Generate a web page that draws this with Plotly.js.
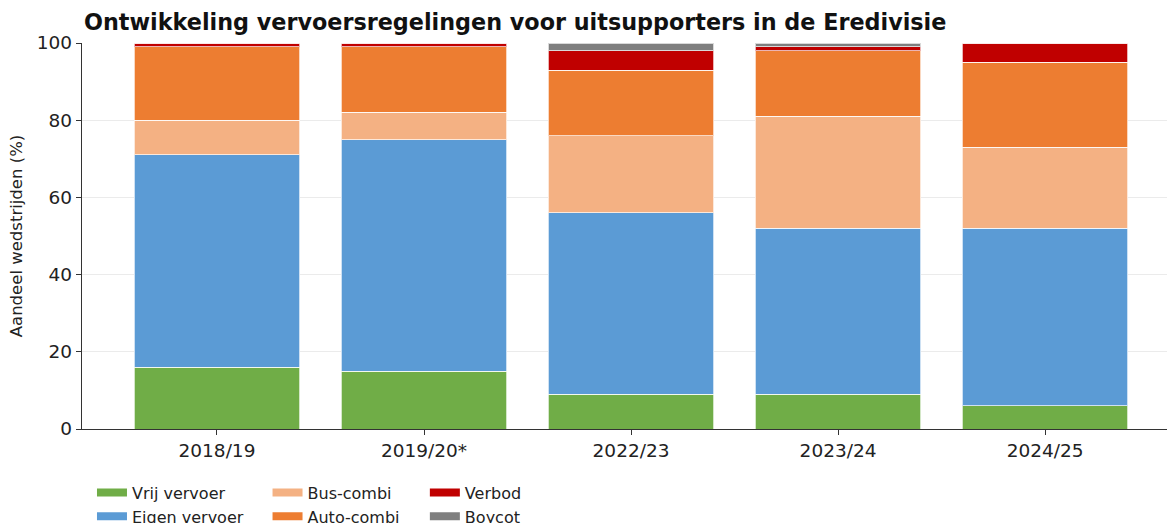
<!DOCTYPE html>
<html><head><meta charset="utf-8">
<script src="https://cdn.plot.ly/plotly-3.0.1.min.js"></script>
<style>body{margin:0;padding:0;background:#fff}#chart{width:1167px;height:523px}</style>
</head><body><div id="chart"></div>
<script>
const seasons = ["2018/19", "2019/20*", "2022/23", "2023/24", "2024/25"];
const vrijVervoer = [16, 15, 9, 9, 6];
const eigenVervoer = [55, 60, 47, 43, 46];
const busCombi = [9, 7, 20, 29, 21];
const autoCombi = [19, 17, 17, 17, 22];
const verbod = [1, 1, 5, 1, 5];
const boycot = [0, 0, 2, 1, 0];
const seriesNames = ["Vrij vervoer", "Eigen vervoer", "Bus-combi", "Auto-combi", "Verbod", "Boycot"];
const yTicks = [0, 20, 40, 60, 80, 100];

const colors = ["#70AD47", "#5B9BD5", "#F4B183", "#ED7D31", "#C00000", "#7F7F7F"];
const values = [vrijVervoer, eigenVervoer, busCombi, autoCombi, verbod, boycot];
const legendIds = ["legend", "legend", "legend2", "legend2", "legend3", "legend3"];

const barTraces = values.map((v, i) => ({
  type: "bar",
  name: seriesNames[i],
  x: seasons,
  y: v,
  legendgroup: "g" + i,
  showlegend: false,
  marker: {color: colors[i], line: {color: "rgba(255,255,255,0.7)", width: 1}},
  hoverinfo: "x+y+name"
}));
// legend entries (wide rectangular swatches like the reference)
const legendTraces = seriesNames.map((n, i) => ({
  type: "scatter", mode: "lines", name: n,
  x: [null], y: [null],
  legendgroup: "g" + i,
  legend: legendIds[i],
  line: {color: colors[i], width: 8},
  hoverinfo: "skip"
}));

const legendFont = {family: "DejaVu Sans", size: 16, color: "#222"};
const legBase = {orientation: "v", yanchor: "bottom", xanchor: "left", y: -0.271, font: legendFont,
  bgcolor: "rgba(0,0,0,0)", tracegroupgap: 0, itemwidth: 30, traceorder: "normal"};

const layout = {
  width: 1167, height: 523,
  margin: {l: 82, r: 0, t: 43, b: 94, autoexpand: false},
  paper_bgcolor: "#fff", plot_bgcolor: "#fff",
  barmode: "stack", bargap: 0.2,
  font: {family: "DejaVu Sans", color: "#222"},
  title: {text: "<b>Ontwikkeling vervoersregelingen voor uitsupporters in de Eredivisie</b>",
    font: {family: "DejaVu Sans", size: 22.3, color: "#111"},
    x: 0.072, xref: "container", xanchor: "left", y: 0.958, yref: "container", yanchor: "middle"},
  xaxis: {type: "category", range: [-0.652, 4.589], showline: true, linecolor: "#333", linewidth: 1.3,
    ticks: "outside", ticklen: 5, tickcolor: "#333", tickfont: {size: 18.5, color: "#222"},
    showgrid: false, zeroline: false, fixedrange: true},
  yaxis: {range: [0, 100], tickvals: yTicks, showline: true, linecolor: "#333", linewidth: 1.3,
    ticks: "outside", ticklen: 5, tickcolor: "#333", tickfont: {size: 18.5, color: "#222"},
    showgrid: true, gridcolor: "rgba(0,0,0,0.08)", gridwidth: 1, zeroline: false,
    title: {text: "Aandeel wedstrijden (%)", font: {size: 16.5, color: "#222"}, standoff: 10}},
  legend: Object.assign({}, legBase, {x: 0.0092}),
  legend2: Object.assign({}, legBase, {x: 0.171}),
  legend3: Object.assign({}, legBase, {x: 0.316}),
  showlegend: true
};

Plotly.newPlot("chart", barTraces.concat(legendTraces), layout, {displayModeBar: false});
</script></body></html>
